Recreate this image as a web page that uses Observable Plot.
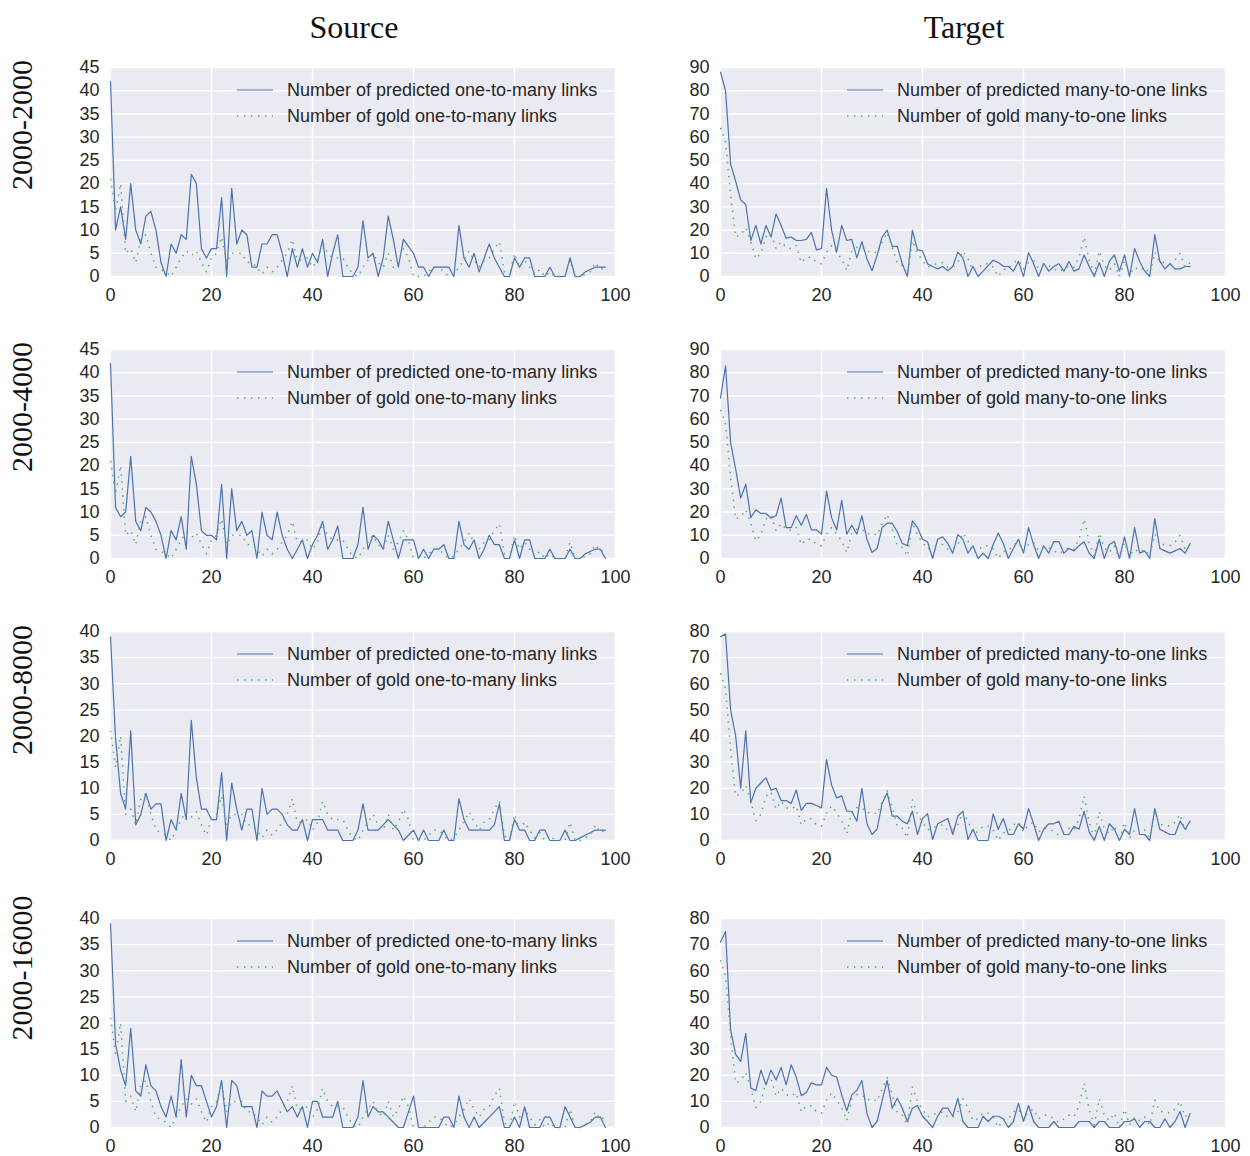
<!DOCTYPE html>
<html>
<head>
<meta charset="utf-8">
<script src="https://cdn.jsdelivr.net/npm/d3@7"></script>
<script src="https://cdn.jsdelivr.net/npm/@observablehq/plot@0.6"></script>
<style>
  html, body { margin: 0; padding: 0; background: #ffffff; }
  #fig { position: relative; width: 1250px; height: 1156px; background: #ffffff; overflow: hidden; }
  .panel { position: absolute; }
  .coltitle { position: absolute; font-family: "Liberation Serif", "DejaVu Serif", serif; font-size: 32px; color: #111; transform: translate(-50%, -50%); white-space: nowrap; }
  .rowlabel { position: absolute; font-family: "Liberation Serif", "DejaVu Serif", serif; font-size: 30px; color: #111; transform: translate(-50%, -50%) rotate(-90deg); white-space: nowrap; }
  .legend { position: absolute; pointer-events: none; }
</style>
</head>
<body>
<div id="fig"></div>
<script>
// ---- Column titles and row labels ----
const columnTitles = ["Source", "Target"];
const rowLabels = ["2000-2000", "2000-4000", "2000-8000", "2000-16000"];
const sourceLegend = ["Number of predicted one-to-many links", "Number of gold one-to-many links"];
const targetLegend = ["Number of predicted many-to-one links", "Number of gold many-to-one links"];

// ---- Axis ticks ----
const xTicks = [0, 20, 40, 60, 80, 100];
const sourceYMax = [45, 45, 40, 40];
const targetYMax = [90, 90, 80, 80];
const sourceYStep = 5;
const targetYStep = 10;

// ---- Gold series (identical across rows) ----
const sourceGold = [21,14,20,5,6,3,8,9,5,2, 1.5,1,0,2,4,5.5,4.5,5.5,3,1, 4,5,8.5,3,5,5,5,3,3,2,
  0.5,2,1,2,3.5,5,8,3.5,3.5,4, 2,3.5,7.5,5,4,4,4,2,0.5,0,
  2,3.5,5,3,2,5,2,3.5,6,4, 0,0,0,1,2,2,1,0,0.5,2, 3.5,5.5,3.5,2,3.5,4,6,7.5,1,0,
  5,2,3.5,2,0.5,1.5,0,1,0,0, 0,3.5,0,0,0.5,1,3,1.5,2];
const targetGold = [64,58,35,17,18,21,15,7.6,10,17, 18.6,12,15,12.6,12,13.3,6,8.3,8.3,6,
  5.5,10.5,13.3,10.5,7.6,2.6,11,12.6,12.6,10.5, 11,10,14.8,19,12.6,5.5,4.7,1,15.5,10,
  7,4,5,5.5,6,4,4,6,11,7.6, 2.6,3.3,5.5,5.5,4,0,3,3.3,6,7,
  3.3,6,7,3.3,4.7,4.7,3.3,2,3.3,4.7, 4,8.3,17,7,1,11,4.7,2.6,5.5,0,
  7,1,4,2.6,4,1,10.5,6,6,5.5, 7,10,4,6];

// ---- Predicted series: source (one-to-many) ----
const sourcePred2000 = [42,10,15,8,20,10,7,13,14,10, 3,0,7,5,9,8,22,20,6,4, 6,6,17,0,19,7,10,9,2,2,
  7,7,9,9,5,0,6,2,6,2, 5,3,8,0,5,9,0,0,0,2,
  12,4,5,0,4,13,8,2,8,6.5, 5,2,2,0,2,2,2,2,0,11, 4,2,5,1,4,7,4,2,0,0,
  4,2,4,4,0,0,0,2,0,0, 0,4,0,0,1,1.5,2,2,2];
const sourcePred4000 = [42,11,9,10,22,8,6,11,10,8, 5,0,6,4,9,2,22,16,6,5, 5,4,16,0,15,6,8,5,6,0,
  10,5,4,10,5,2,0,2,4,0, 3,5,8,2,4,7,0,0,0,3,
  11,2,5,4,2,8,4,0,4,4, 4,0,2,0,2,2,3,0,0,8, 3,2,4,0,2,5,3,3,0,0,
  4,0,4,4,0,0,0,2,0,0, 0,2,0,0,1,1.5,2,2,0];
const sourcePred8000 = [39,19.6,9,6,21,3,5,9,6,7, 7,0,4,2,9,4,23,12,6,6, 4,4,13,0,11,6,2,6,6,0,
  10,5,6,6,5,3,2,2,4,0, 4,4,4,2,2,2,0,0,0,2,
  7,2,2,2,3,4,3,2,0,1, 2,0,2,0,0,0,2,0,0,8, 4,2,2,2,2,2,3,7,0,0,
  4,2,2,0,0,2,2,0,0,0, 2,0,0,0.5,1,1.5,2,2,2];
const sourcePred16000 = [39,16,11,8,19,7,6,12,8,7, 4,2,6,2,13,2,10,8,8,5, 2,4,9,0,9,8,4,4,4,0,
  7,6,6,7,5,3,4,2,4,0, 5,5,2,2,2,5,0,0,0,2,
  9,2,4,3,3,2,1,0,0,3, 6,0,0,0,0,0,2,2,0,6, 2,0,2,0,1,2,3,4,0,0,
  2,0,4,0,0,0,2,2,0,0, 4,2,0,0,0.5,1,2,2,0];

// ---- Predicted series: target (many-to-one) ----
const targetPred2000 = [88,80,48.5,41,33,31,15.5,22,14,22, 17,27,22,16.5,17,15.5,15.5,16,19,11.5,
  12,38,20,10.5,22,15.5,16,8,15,7.5, 2.5,9,17,20,13,13,5.5,0,20,11.5,
  11,5.5,4.3,3.3,4.3,2.5,4.3,10.5,8,0, 4.3,0,2.3,4.7,7,6,4.4,4.3,2.3,6.5,
  0,10.3,5.5,0,5.7,2.3,4.3,5.5,2.3,6.5, 2.3,3.3,9.3,4.3,0,6,0,6.5,9.3,2.3,
  9.3,0,12,6.5,2.3,0,18,6.5,3.3,5.5, 3.3,3.3,4.3,4.3];
const targetPred4000 = [69,83,50,38.5,26,32,17.6,21,19.4,19.4, 17.4,18.4,26,13.3,13.3,18.4,14.3,19,12.3,12.3,
  10.5,29,17.6,12.3,25,10.5,14.3,10.5,18.4,8.3, 2.6,4.3,13.3,15.2,15.2,11.5,6.5,5.5,16.2,13.3,
  8.3,7.2,0,8.3,9.3,6.5,2.3,10.3,8.3,2.3, 5.5,0,2.3,0,6,11,6.5,0,4.3,8.3,
  2.3,13.3,6,0,5.5,2.3,7.3,7.3,2.3,4.3, 3.3,5.5,7.2,2.3,0,8.3,0,6,7.3,0,
  9.3,0,13.3,2.3,3.3,0,17.2,4.3,3.3,2.3, 3.3,4.3,2.3,6.5];
const targetPred8000 = [78,79,50,40,20,42,14.4,20,22,24, 19.3,20,15.3,15.3,14.2,19.3,11.5,14.2,14.2,13.4,
  12.5,31,21.2,16.3,17.1,11.2,11.2,7.4,20,6.4, 2.3,4.3,14.2,18.2,9.3,9.3,7.4,6.4,11.2,2.3,
  8.4,10.3,0.4,6.4,7.4,8.4,2.3,9.3,11.2,0.4, 4.3,0,0,0,10.2,4.3,8.4,2.3,2.3,6.4,
  4.3,12.2,6.4,0,4.3,6.4,6.4,7.4,2.3,2.3, 5.4,4.3,11.2,3.3,0,5.4,0,6.4,4.3,0,
  4.3,2.3,12.2,2.3,2.3,0,12.2,4.3,3.3,2.3, 2.3,7.4,4.3,7.4];
const targetPred16000 = [71,75,37.4,28,25.3,36,15,14.2,22,16.3, 22,18.2,23,16.3,24,19.3,12.2,13.4,17.1,16.3,
  16.3,23,20,19.3,12.5,6.4,12.5,14.2,18,5.4, 0,2.3,10.2,18,7.4,11.2,7.4,2.3,7.4,8.4,
  4.3,2.3,0,4.3,7.4,7.4,4.3,11.2,2.3,0, 0,0,4.3,2.3,4.3,4.3,3.3,0,2.3,9.3,
  2.3,8.4,2.3,0,0,0,2.3,0,0,0, 0,2.3,2.3,2.3,0,2.3,2.3,0,0,0,
  2.3,2.3,3.3,0,2.3,2.3,0,0,3.3,0, 2.3,6.1,0,5.4];

const sourcePred = [sourcePred2000, sourcePred4000, sourcePred8000, sourcePred16000];
const targetPred = [targetPred2000, targetPred4000, targetPred8000, targetPred16000];

// ---- Layout / style ----
const BLUE = "#4C72B0", GREEN = "#55A868", BG = "#EAEAF2", INK = "#262626";
const frameW = 505, frameH = 209;
const frameLeft = [110, 720];
const frameTop = [67, 349, 631, 918];
const M = {left: 50, right: 30, top: 6, bottom: 40};
const fig = document.getElementById("fig");

function panel(pred, gold, yMax, yStep, legendTexts, fx, fy) {
  const yTicks = d3.range(0, yMax + 0.001, yStep);
  const chart = Plot.plot({
    width: frameW + M.left + M.right,
    height: frameH + M.top + M.bottom,
    marginLeft: M.left, marginRight: M.right, marginTop: M.top, marginBottom: M.bottom,
    x: {domain: [0, 100], label: null},
    y: {domain: [0, yMax], label: null},
    style: {background: "transparent", overflow: "visible", maxWidth: "none",
            fontFamily: "'Liberation Sans', Arial, sans-serif", fontSize: "18px", color: INK},
    marks: [
      Plot.frame({fill: BG, stroke: "none"}),
      Plot.gridX(xTicks, {stroke: "white", strokeOpacity: 1, strokeWidth: 1.4}),
      Plot.gridY(yTicks, {stroke: "white", strokeOpacity: 1, strokeWidth: 1.4}),
      Plot.axisX({ticks: xTicks, tickSize: 0, tickPadding: 12, fontSize: 18}),
      Plot.axisY({ticks: yTicks, tickSize: 0, tickPadding: 11, fontSize: 18}),
      Plot.lineY(pred, {stroke: BLUE, strokeWidth: 1.2}),
      Plot.lineY(gold, {stroke: GREEN, strokeWidth: 1.5, strokeDasharray: "1.4,5.6", strokeLinecap: "butt"})
    ]
  });
  const wrap = document.createElement("div");
  wrap.className = "panel";
  wrap.style.left = (fx - M.left) + "px";
  wrap.style.top = (fy - M.top) + "px";
  wrap.appendChild(chart);
  fig.appendChild(wrap);

  // legend (inside the frame, upper right)
  const ns = "http://www.w3.org/2000/svg";
  const lg = document.createElementNS(ns, "svg");
  lg.setAttribute("class", "legend");
  lg.setAttribute("width", 380); lg.setAttribute("height", 70);
  lg.style.left = (fx + 120) + "px";
  lg.style.top = (fy + 5) + "px";
  const rows = [{y: 18, stroke: BLUE, dash: null, w: 1.2}, {y: 44, stroke: GREEN, dash: "1.4,5.6", w: 1.5}];
  rows.forEach((r, i) => {
    const l = document.createElementNS(ns, "line");
    l.setAttribute("x1", 7); l.setAttribute("x2", 43);
    l.setAttribute("y1", r.y); l.setAttribute("y2", r.y);
    l.setAttribute("stroke", r.stroke); l.setAttribute("stroke-width", r.w);
    if (r.dash) l.setAttribute("stroke-dasharray", r.dash);
    lg.appendChild(l);
    const t = document.createElementNS(ns, "text");
    t.setAttribute("x", 57); t.setAttribute("y", r.y); t.setAttribute("dy", "0.36em");
    t.setAttribute("fill", INK);
    t.setAttribute("font-family", "'Liberation Sans', Arial, sans-serif");
    t.setAttribute("font-size", "18");
    t.textContent = legendTexts[i];
    lg.appendChild(t);
  });
  fig.appendChild(lg);
}

for (let r = 0; r < 4; r++) {
  panel(sourcePred[r], sourceGold, sourceYMax[r], sourceYStep, sourceLegend, frameLeft[0], frameTop[r]);
  panel(targetPred[r], targetGold, targetYMax[r], targetYStep, targetLegend, frameLeft[1], frameTop[r]);
}

// titles
[[columnTitles[0], 354], [columnTitles[1], 964]].forEach(([txt, cx]) => {
  const d = document.createElement("div");
  d.className = "coltitle"; d.textContent = txt;
  d.style.left = cx + "px"; d.style.top = "27px";
  fig.appendChild(d);
});
const rowLabelY = [125, 407, 690, 968];
rowLabels.forEach((txt, i) => {
  const d = document.createElement("div");
  d.className = "rowlabel"; d.textContent = txt;
  d.style.left = "22px"; d.style.top = rowLabelY[i] + "px";
  fig.appendChild(d);
});
</script>
</body>
</html>
